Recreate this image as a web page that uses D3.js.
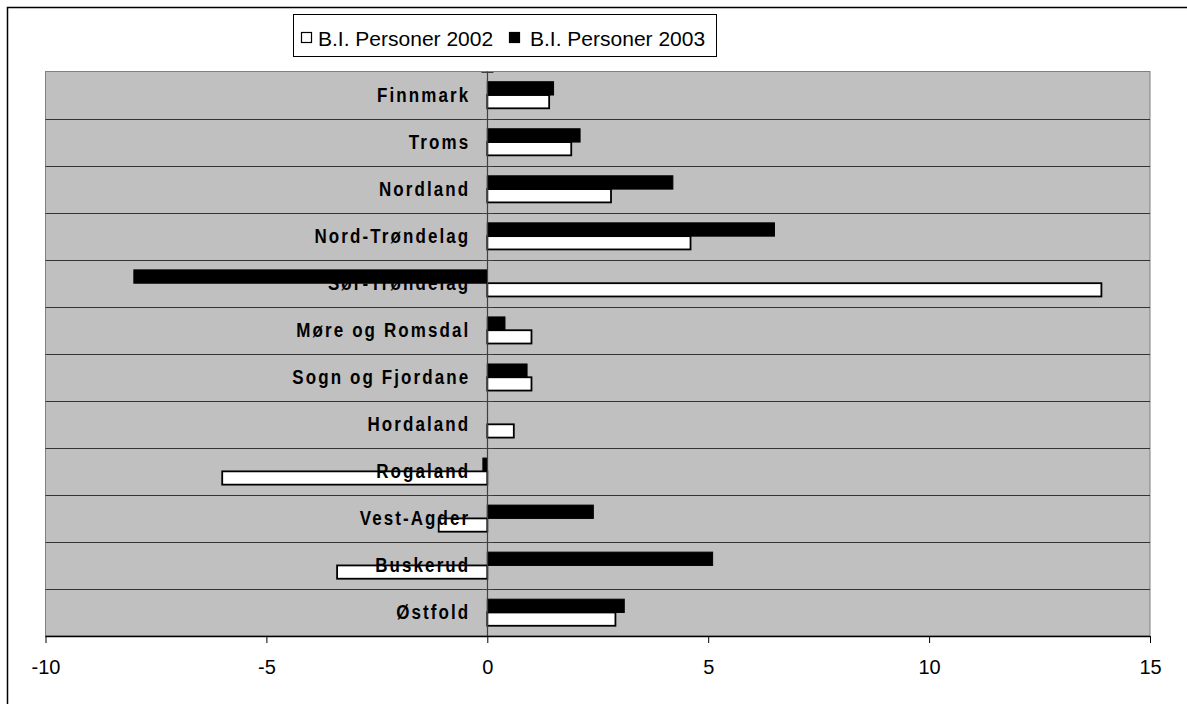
<!DOCTYPE html>
<html>
<head>
<meta charset="utf-8">
<script src="https://cdn.jsdelivr.net/npm/d3@7"></script>
<style>
  html, body { margin: 0; padding: 0; background: #fff; overflow: hidden; }
  svg { display: block; }
</style>
</head>
<body>
<svg id="chart" width="1187" height="704"></svg>
<script>
const categories = ["Finnmark","Troms","Nordland","Nord-Trøndelag","Sør-Trøndelag","Møre og Romsdal","Sogn og Fjordane","Hordaland","Rogaland","Vest-Agder","Buskerud","Østfold"];
const values2002 = [1.4, 1.9, 2.8, 4.6, 13.9, 1.0, 1.0, 0.6, -6.0, -1.1, -3.4, 2.9];
const values2003 = [1.5, 2.1, 4.2, 6.5, -8.0, 0.4, 0.9, 0, -0.1, 2.4, 5.1, 3.1];
const seriesNames = ["B.I. Personer 2002", "B.I. Personer 2003"];
const xTicks = [-10, -5, 0, 5, 10, 15];

const svg = d3.select("#chart");
const plotLeft = 45.5, plotRight = 1150, plotTop = 71.5, plotBottom = 636;

// outer frame (top and left edges visible)
svg.append("path").attr("d", "M7.5,704V7.5H1187")
  .attr("fill", "none").attr("stroke", "#000").attr("stroke-width", 1.5);

const x = d3.scaleLinear().domain([-10, 15]).range([plotLeft, plotRight]);
const y = d3.scaleBand().domain(categories).range([plotTop, plotBottom]).padding(0);
const sub = d3.scaleBand().domain(["2003", "2002"]).range([0, y.bandwidth()]).paddingInner(0).paddingOuter(0.77);

// plot background
svg.append("rect").attr("x", plotLeft).attr("y", plotTop).attr("width", plotRight - plotLeft).attr("height", plotBottom - plotTop)
  .attr("fill", "#c0c0c0").attr("stroke", "#808080").attr("stroke-width", 1);

// horizontal gridlines at band boundaries
svg.append("g").selectAll("line").data(categories.slice(1)).join("line")
  .attr("x1", plotLeft).attr("x2", plotRight)
  .attr("y1", d => Math.round(y(d)) + 0.5).attr("y2", d => Math.round(y(d)) + 0.5)
  .attr("stroke", "#333").attr("stroke-width", 1);

const rows = categories.map((c, i) => ({c, v2002: values2002[i], v2003: values2003[i]}));

// 2002 bars (white)
svg.append("g").selectAll("rect").data(rows.filter(d => d.v2002 !== 0)).join("rect")
  .attr("x", d => x(Math.min(0, d.v2002)))
  .attr("width", d => Math.abs(x(d.v2002) - x(0)))
  .attr("y", d => y(d.c) + sub("2002"))
  .attr("height", sub.bandwidth())
  .attr("fill", "#fff").attr("stroke", "#000").attr("stroke-width", 1.8);

// 2003 bars (black)
svg.append("g").selectAll("rect").data(rows.filter(d => d.v2003 !== 0)).join("rect")
  .attr("x", d => x(Math.min(0, d.v2003)))
  .attr("width", d => Math.abs(x(d.v2003) - x(0)))
  .attr("y", d => y(d.c) + sub("2003"))
  .attr("height", sub.bandwidth())
  .attr("fill", "#000").attr("stroke", "#000").attr("stroke-width", 1);

// zero axis
const x0 = Math.round(x(0)) + 0.5;
svg.append("line").attr("x1", x0).attr("x2", x0).attr("y1", plotTop).attr("y2", plotBottom)
  .attr("stroke", "#404040").attr("stroke-width", 1.2);
svg.append("g").selectAll("line").data(categories).join("line")
  .attr("x1", x0 - 6).attr("x2", x0 + 6)
  .attr("y1", d => Math.round(y(d)) + 0.5).attr("y2", d => Math.round(y(d)) + 0.5)
  .attr("stroke", "#404040").attr("stroke-width", 1);

// category labels
svg.append("g").selectAll("text").data(categories).join("text")
  .attr("transform", d => `translate(${x(0) - 17},${y(d) + y.bandwidth() / 2 + 6.5}) scale(1,1.15)`)
  .attr("text-anchor", "end")
  .attr("font-family", "Arial, 'Liberation Sans', sans-serif")
  .attr("font-weight", "bold")
  .attr("font-size", 17)
  .attr("letter-spacing", "2.1px")
  .attr("fill", "#000")
  .text(d => d);

// x axis
const xAxis = d3.axisBottom(x).tickValues(xTicks).tickSize(7).tickPadding(17).tickFormat(d => String(d));
const gx = svg.append("g").attr("transform", `translate(0,${plotBottom})`).call(xAxis);
gx.select(".domain").attr("stroke", "#000").attr("stroke-width", 1.5).attr("d", `M${plotLeft},0.5H${plotRight}`);
gx.selectAll(".tick line").attr("stroke", "#000");
gx.selectAll(".tick text").attr("font-family", "Arial, 'Liberation Sans', sans-serif")
  .attr("font-size", 20).attr("fill", "#000");

// legend
const lg = svg.append("g");
lg.append("rect").attr("x", 293.5).attr("y", 14.5).attr("width", 423).attr("height", 42)
  .attr("fill", "#fff").attr("stroke", "#000").attr("stroke-width", 1);
const legendItems = [
  {name: seriesNames[0], fill: "#fff", sx: 301, tx: 318},
  {name: seriesNames[1], fill: "#000", sx: 509, tx: 530}
];
legendItems.forEach(it => {
  lg.append("rect").attr("x", it.sx + 0.5).attr("y", 32.5).attr("width", 10).attr("height", 10)
    .attr("fill", it.fill).attr("stroke", "#000").attr("stroke-width", 1.2);
  lg.append("text").attr("x", it.tx).attr("y", 45.5)
    .attr("font-family", "Arial, 'Liberation Sans', sans-serif").attr("font-size", 21)
    .attr("fill", "#000").text(it.name);
});
</script>
</body>
</html>
